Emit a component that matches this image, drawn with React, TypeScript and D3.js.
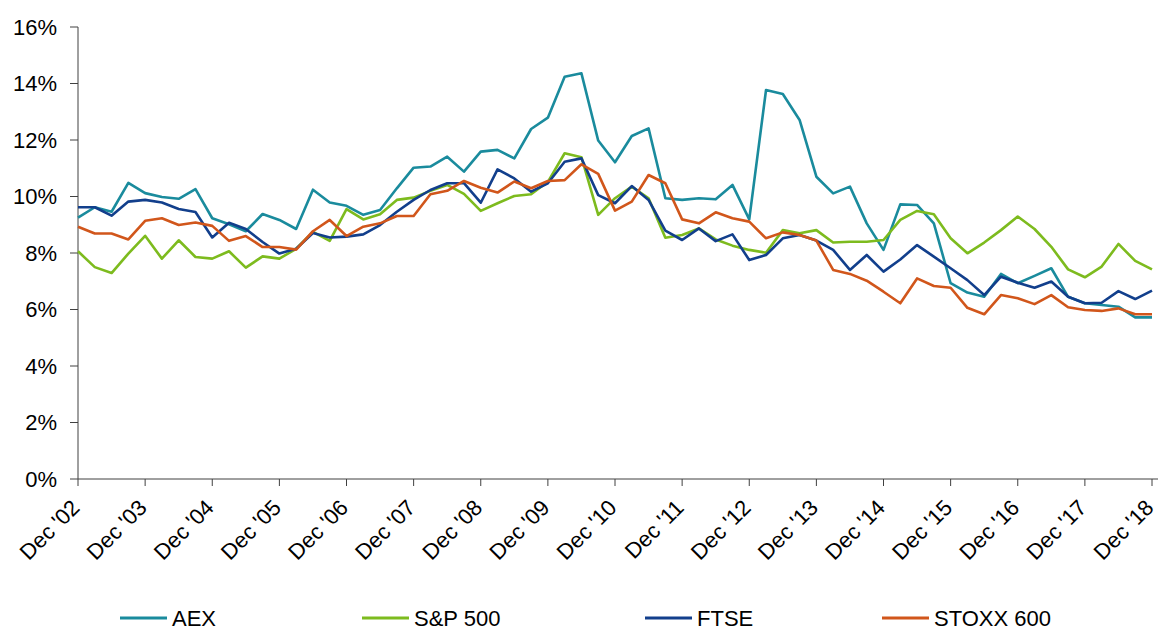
import React from "react";
import * as d3 from "d3";

const years = ["02","03","04","05","06","07","08","09","10","11","12","13","14","15","16","17","18"];
const yTicks = [0, 2, 4, 6, 8, 10, 12, 14, 16];

const aex = [9.25,9.62,9.46,10.48,10.12,9.98,9.92,10.26,9.23,9.02,8.77,9.38,9.17,8.85,10.24,9.79,9.67,9.35,9.52,10.29,11.02,11.06,11.41,10.88,11.59,11.65,11.35,12.39,12.79,14.24,14.36,11.98,11.21,12.14,12.41,9.94,9.88,9.94,9.9,10.41,9.19,13.77,13.63,12.71,10.7,10.11,10.35,9.05,8.11,9.72,9.7,9.05,6.93,6.6,6.45,7.26,6.93,7.19,7.46,6.45,6.22,6.16,6.1,5.72,5.72];
const sp500 = [8.06,7.5,7.29,7.98,8.61,7.8,8.45,7.86,7.8,8.06,7.48,7.88,7.8,8.15,8.75,8.43,9.55,9.19,9.37,9.88,9.96,10.2,10.41,10.09,9.49,9.76,10.02,10.08,10.52,11.53,11.39,9.35,9.94,10.35,9.94,8.54,8.64,8.87,8.48,8.26,8.11,8.01,8.81,8.7,8.81,8.37,8.4,8.4,8.46,9.17,9.49,9.37,8.52,7.99,8.37,8.81,9.29,8.85,8.22,7.42,7.14,7.52,8.32,7.72,7.42];
const ftse = [9.62,9.62,9.32,9.82,9.88,9.79,9.56,9.45,8.55,9.07,8.85,8.39,7.98,8.15,8.71,8.55,8.58,8.66,8.99,9.46,9.88,10.23,10.47,10.47,9.78,10.96,10.64,10.17,10.47,11.23,11.35,10.05,9.76,10.37,9.88,8.79,8.46,8.87,8.42,8.66,7.75,7.93,8.52,8.64,8.44,8.11,7.4,7.93,7.34,7.77,8.28,7.87,7.46,7.04,6.51,7.16,6.95,6.77,6.99,6.45,6.22,6.24,6.65,6.37,6.67];
const stoxx = [8.93,8.69,8.69,8.48,9.14,9.23,8.99,9.08,8.96,8.43,8.6,8.21,8.21,8.12,8.77,9.17,8.6,8.93,9.05,9.31,9.31,10.08,10.2,10.55,10.31,10.14,10.53,10.29,10.55,10.58,11.14,10.8,9.5,9.82,10.76,10.47,9.19,9.05,9.44,9.23,9.11,8.52,8.73,8.64,8.44,7.4,7.26,7.02,6.63,6.22,7.1,6.83,6.77,6.06,5.83,6.51,6.4,6.19,6.51,6.08,5.98,5.95,6.04,5.83,5.83];

const seriesNames = ["AEX", "S&P 500", "FTSE", "STOXX 600"];
const seriesColors = ["#1A8B9D", "#7DBB1E", "#123F8C", "#D1561B"];
const seriesData = [aex, sp500, ftse, stoxx];

const W = 1158, H = 632;
const FONT = "'Liberation Sans', Arial, sans-serif";

export default function App() {
  const x = d3.scaleLinear().domain([0, 64]).range([78, 1152]);
  const y = d3.scaleLinear().domain([0, 16]).range([479, 27]);
  const line = d3.line<number>().x((_, i) => x(i)).y((d) => y(d));
  const legendX = [120, 362, 645, 882];

  return (
    <svg width={W} height={H} style={{ position: "absolute", left: 0, top: 0, background: "#fff" }} fontFamily={FONT}>
      {/* y axis */}
      <line x1={78} x2={78} y1={y(16)} y2={y(0)} stroke="#404040" strokeWidth={1} />
      {yTicks.map((t) => (
        <g key={t}>
          <line x1={70} x2={78} y1={y(t)} y2={y(t)} stroke="#404040" strokeWidth={1} />
          <text x={57} y={y(t)} dy="0.36em" textAnchor="end" fontSize={22} fill="#000">{t}%</text>
        </g>
      ))}
      {/* x axis */}
      <line x1={78} x2={1158} y1={y(0)} y2={y(0)} stroke="#404040" strokeWidth={1} />
      {years.map((yr, k) => {
        const px = x(k * 4);
        return (
          <g key={yr}>
            <line x1={px} x2={px} y1={y(0)} y2={y(0) + 7} stroke="#404040" strokeWidth={1} />
            <text transform={`translate(${px + 3},${y(0) + 30}) rotate(-45)`} textAnchor="end" fontSize={22} fill="#000">{`Dec '${yr}`}</text>
          </g>
        );
      })}
      {/* lines */}
      {seriesData.map((d, s) => (
        <path key={s} d={line(d) || ""} fill="none" stroke={seriesColors[s]} strokeWidth={2.6} strokeLinejoin="round" />
      ))}
      {/* legend */}
      {seriesNames.map((n, s) => (
        <g key={n}>
          <line x1={legendX[s]} x2={legendX[s] + 47} y1={618} y2={618} stroke={seriesColors[s]} strokeWidth={3} />
          <text x={legendX[s] + 52} y={618} dy="0.36em" fontSize={22} fill="#000">{n}</text>
        </g>
      ))}
    </svg>
  );
}
